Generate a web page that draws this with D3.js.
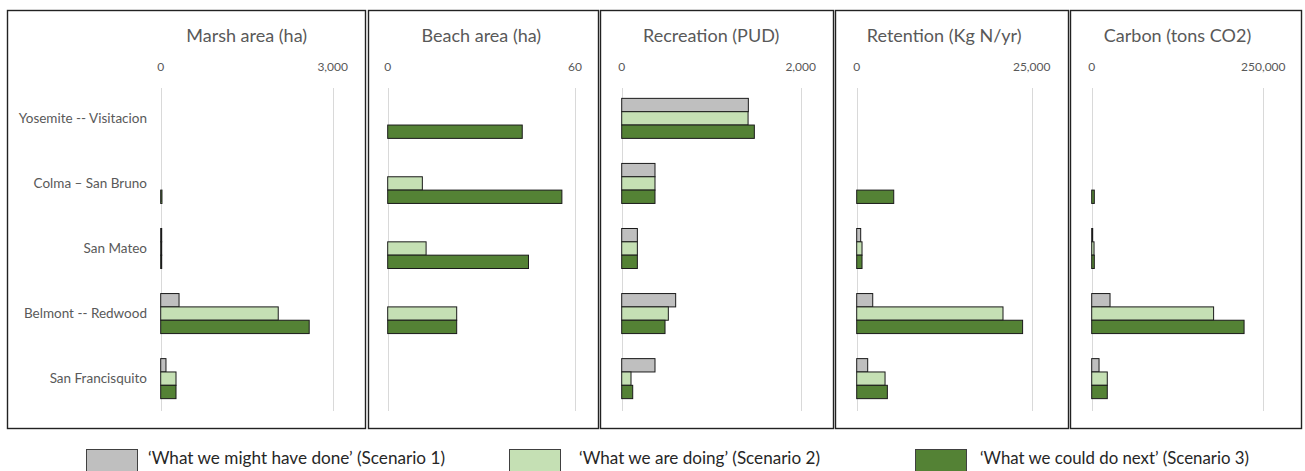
<!DOCTYPE html>
<html>
<head>
<meta charset="utf-8">
<script src="https://cdn.jsdelivr.net/npm/d3@7"></script>
<style>
  body { margin: 0; background: #fff; }
  text { font-family: Lato, "Liberation Sans", sans-serif; fill: #595959; }
</style>
</head>
<body>
<script>
/* global d3 */

const width = 1305
const height = 471

const categories = ['Yosemite -- Visitacion', 'Colma \u2013 San Bruno', 'San Mateo', 'Belmont -- Redwood', 'San Francisquito']
const scenarios = ['\u2018What we might have done\u2019 (Scenario 1)', '\u2018What we are doing\u2019 (Scenario 2)', '\u2018What we could do next\u2019 (Scenario 3)']
const titles = ['Marsh area (ha)', 'Beach area (ha)', 'Recreation (PUD)', 'Retention (Kg N/yr)', 'Carbon (tons CO2)']
const axisMax = [3000, 60, 2000, 25000, 250000]

// one row per scenario, one value per category
const marsh = [
  [0, 0, 15, 320, 92],
  [0, 0, 12, 2050, 267],
  [0, 22, 15, 2590, 267]
]
const beach = [
  [0, 0, 0, 0, 0],
  [0, 11.1, 12.3, 22.1, 0],
  [43.1, 55.8, 45.1, 22.1, 0]
]
const recreation = [
  [1415, 372, 175, 603, 372],
  [1412, 372, 175, 521, 104],
  [1482, 372, 175, 484, 123]
]
const retention = [
  [0, 0, 570, 2290, 1570],
  [0, 0, 760, 20900, 4050],
  [0, 5290, 760, 23700, 4380]
]
const carbon = [
  [0, 0, 1200, 26700, 10700],
  [0, 0, 3400, 177600, 22700],
  [0, 3800, 3800, 222000, 22700]
]
const metrics = [marsh, beach, recreation, retention, carbon]

const colors = ['#bfbfbf', '#c5e0b4', '#548235']

// panel boxes and plot ranges (px)
const panels = [
  { x0: 7, x1: 366, p0: 160.7, p1: 332.7 },
  { x0: 368, x1: 599, p0: 387.7, p1: 575 },
  { x0: 600, x1: 834, p0: 621.7, p1: 800.7 },
  { x0: 835, x1: 1069, p0: 856.7, p1: 1031.7 },
  { x0: 1070, x1: 1302, p0: 1091.7, p1: 1263.3 }
]
const boxTop = 10
const boxBottom = 428

const svg = d3.select('body').append('svg')
  .attr('width', width)
  .attr('height', height)

const y = d3.scaleBand()
  .domain(categories)
  .range([86, 411])
  .paddingInner(0.385)
  .paddingOuter(0.19)

const ySub = d3.scaleBand()
  .domain(d3.range(3))
  .range([0, y.bandwidth()])

panels.forEach((p, k) => {
  const g = svg.append('g')

  g.append('rect')
    .attr('x', p.x0 + 0.5)
    .attr('y', boxTop + 0.5)
    .attr('width', p.x1 - p.x0 - 1)
    .attr('height', boxBottom - boxTop)
    .attr('fill', 'none')
    .attr('stroke', '#222')
    .attr('stroke-width', 1.4)

  const x = d3.scaleLinear()
    .domain([0, axisMax[k]])
    .range([p.p0, p.p1])

  g.append('text')
    .attr('x', (p.p0 + p.p1) / 2)
    .attr('y', 42)
    .attr('text-anchor', 'middle')
    .style('font-size', '18px')
    .text(titles[k])

  const ticks = [0, axisMax[k]]
  g.selectAll('.grid')
    .data(ticks)
    .enter().append('line')
    .attr('x1', d => Math.round(x(d)) + 0.5)
    .attr('x2', d => Math.round(x(d)) + 0.5)
    .attr('y1', 88)
    .attr('y2', 411)
    .attr('stroke', '#d9d9d9')
    .attr('stroke-width', 1)

  g.selectAll('.tick')
    .data(ticks)
    .enter().append('text')
    .attr('x', d => x(d))
    .attr('y', 71)
    .attr('text-anchor', 'middle')
    .style('font-size', '12px')
    .text(d => d3.format(',')(d))

  if (k === 0) {
    g.selectAll('.cat')
      .data(categories)
      .enter().append('text')
      .attr('x', 147)
      .attr('y', d => y(d) + y.bandwidth() / 2)
      .attr('dy', '0.36em')
      .attr('text-anchor', 'end')
      .style('font-size', '13.5px')
      .text(d => d)
  }

  metrics[k].forEach((vals, s) => {
    g.selectAll('.bar' + s)
      .data(vals.map((v, c) => ({ v, c })).filter(d => d.v > 0))
      .enter().append('rect')
      .attr('x', x(0))
      .attr('y', d => y(categories[d.c]) + ySub(s))
      .attr('width', d => Math.max(1, x(d.v) - x(0)))
      .attr('height', ySub.bandwidth())
      .attr('fill', colors[s])
      .attr('stroke', '#1a1a1a')
      .attr('stroke-width', 1)
  })
})

// legend
const legendX = [86, 509, 915]
const legendTextX = [148, 579, 980]
const legendW = [297, 241, 269]

const legend = svg.append('g')
scenarios.forEach((s, i) => {
  legend.append('rect')
    .attr('x', legendX[i] + 0.5)
    .attr('y', 449.5)
    .attr('width', 51)
    .attr('height', 22)
    .attr('fill', colors[i])
    .attr('stroke', '#404040')
    .attr('stroke-width', 1)
  legend.append('text')
    .attr('x', legendTextX[i])
    .attr('y', 464)
    .attr('textLength', legendW[i])
    .attr('lengthAdjust', 'spacingAndGlyphs')
    .style('font-size', '17px')
    .style('fill', '#262626')
    .text(s)
})
</script>
</body>
</html>
